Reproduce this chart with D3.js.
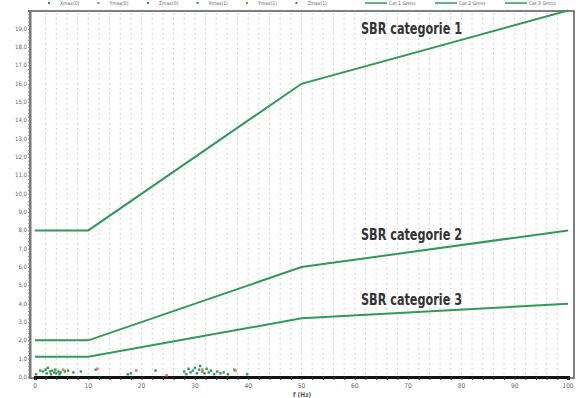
<!DOCTYPE html>
<html>
<head>
<meta charset="utf-8">
<script src="https://cdn.jsdelivr.net/npm/d3@7"></script>
<style>
  body { margin: 0; background: #fff; }
  svg { display: block; }
</style>
</head>
<body>
<div id="chart"></div>
<script>
// limit lines (SBR), frequency in Hz, velocity in mm/s
const limitFreq = [0, 10, 50, 100];
const cat1 = [8, 8, 16, 20];
const cat2 = [2, 2, 6, 8];
const cat3 = [1.1, 1.1, 3.2, 4];
const catLabels = ["SBR categorie 1", "SBR categorie 2", "SBR categorie 3"];
const labelValues = [18.7, 7.5, 3.95];

// measured peaks near the bottom
const greenFreq = [0.2, 1.0, 1.5, 2.0, 2.2, 2.4, 2.8, 3.0, 3.2, 3.6, 3.8, 4.0, 4.4, 4.6, 4.8, 5.6, 6.2, 7.2, 8.6, 11.4, 17.4, 18.0, 22.6, 28.0, 28.4, 28.8, 29.2, 29.6, 30.0, 30.4, 30.8, 31.0, 31.4, 31.8, 32.2, 32.6, 33.0, 33.6, 34.2, 34.8, 35.4, 36.2, 37.4, 39.8];
const greenVal = [0.15, 0.35, 0.3, 0.4, 0.2, 0.5, 0.3, 0.15, 0.35, 0.25, 0.4, 0.2, 0.3, 0.15, 0.25, 0.3, 0.35, 0.25, 0.3, 0.4, 0.15, 0.2, 0.35, 0.3, 0.15, 0.45, 0.25, 0.35, 0.5, 0.2, 0.4, 0.6, 0.3, 0.2, 0.45, 0.25, 0.35, 0.15, 0.3, 0.2, 0.25, 0.15, 0.4, 0.15];
const redFreq = [5.3, 11.7, 19.0, 24.7, 31.4, 37.6];
const redVal = [0.4, 0.45, 0.35, 0.1, 0.4, 0.35];

const legendItems = ["Xmax(0)", "Ymax(0)", "Zmax(0)", "Xmax(1)", "Ymax(1)", "Zmax(1)"];
const legendLines = ["Cat 1 Grens", "Cat 2 Grens", "Cat 3 Grens"];

const xTicks = d3.range(0, 101, 10);
const yTicks = d3.range(0, 20, 1);

const width = 576, height = 398;
const frame = { left: 30, right: 574, top: 11, bottom: 378 };
const green = "#2f9a58";
const condensed = "'DejaVu Sans Condensed', 'Liberation Sans Narrow', sans-serif";

const svg = d3.select("#chart").append("svg")
  .attr("width", width)
  .attr("height", height);

const x = d3.scaleLinear().domain([0, 100]).range([35, 568]);
const y = d3.scaleLinear().domain([0, 20]).range([377, 10.5]);

// frame
svg.append("rect")
  .attr("x", frame.left).attr("y", frame.top)
  .attr("width", frame.right - frame.left)
  .attr("height", frame.bottom - frame.top)
  .attr("fill", "none")
  .attr("stroke", "#555")
  .attr("stroke-width", 1.5);

// dotted vertical grid every 2 Hz
svg.append("g").selectAll("line")
  .data(d3.range(2, 100, 2))
  .join("line")
  .attr("x1", d => x(d)).attr("x2", d => x(d))
  .attr("y1", frame.top + 2).attr("y2", frame.bottom - 2)
  .attr("stroke", "#b8b8b8")
  .attr("stroke-width", 0.8)
  .attr("stroke-dasharray", "1.5,3.5");

// bottom axis
const xAxis = svg.append("g")
  .attr("transform", `translate(0,${frame.bottom - 1})`)
  .call(d3.axisBottom(x).tickValues(d3.range(0, 101, 2)).tickSize(3).tickFormat(""));
xAxis.select(".domain").attr("stroke", "#111").attr("stroke-width", 3);
xAxis.selectAll(".tick line").attr("stroke", "#333");

svg.append("g").selectAll("text")
  .data(xTicks)
  .join("text")
  .attr("x", d => x(d))
  .attr("y", frame.bottom + 9.5)
  .attr("text-anchor", "middle")
  .attr("font-family", condensed)
  .attr("font-size", 6.5)
  .attr("fill", "#666")
  .text(d => d);

svg.append("text")
  .attr("x", 293)
  .attr("y", 396.5)
  .attr("font-family", condensed)
  .attr("font-size", 6.5)
  .attr("font-weight", "bold")
  .attr("fill", "#555")
  .text("f (Hz)");

// left axis
const yAxis = svg.append("g")
  .attr("transform", `translate(${frame.left},0)`)
  .call(d3.axisLeft(y).tickValues(d3.range(0, 20.01, 0.2)).tickSize(2).tickFormat(""));
yAxis.select(".domain").attr("stroke", "#777").attr("stroke-width", 2);
yAxis.selectAll(".tick line").attr("stroke", "#888");

svg.append("g").selectAll("text")
  .data(yTicks)
  .join("text")
  .attr("x", frame.left - 3)
  .attr("y", d => y(d) + 2)
  .attr("text-anchor", "end")
  .attr("font-family", condensed)
  .attr("font-size", 6)
  .attr("fill", "#666")
  .text(d => d3.format(".1f")(d).replace(".", ","));

// legend strip along the top edge
const legend = svg.append("g").attr("font-family", condensed).attr("font-size", 5).attr("fill", "#666");
const legendColors = ["#2f9a58", "#e8604a", "#2f9a58", "#2f9a58", "#e8604a", "#2f9a58"];
legendItems.forEach((t, i) => {
  const lx = 60 + i * 49.5;
  legend.append("rect").attr("x", lx - 12).attr("y", 2).attr("width", 2).attr("height", 2).attr("fill", legendColors[i]);
  legend.append("text").attr("x", lx).attr("y", 5).text(t);
});
legendLines.forEach((t, i) => {
  const lx = 365 + i * 70;
  legend.append("line").attr("x1", lx).attr("x2", lx + 22).attr("y1", 3).attr("y2", 3)
    .attr("stroke", green).attr("stroke-width", 1.5);
  legend.append("text").attr("x", lx + 24).attr("y", 5).text(t);
});

// scatter points
svg.append("g").selectAll("rect")
  .data(greenFreq.map((f, i) => [f, greenVal[i]]))
  .join("rect")
  .attr("x", d => x(d[0]) - 1.2)
  .attr("y", d => y(d[1]) - 1.2)
  .attr("width", 2.4).attr("height", 2.4)
  .attr("fill", green);

svg.append("g").selectAll("rect")
  .data(redFreq.map((f, i) => [f, redVal[i]]))
  .join("rect")
  .attr("x", d => x(d[0]) - 1.3)
  .attr("y", d => y(d[1]) - 1.3)
  .attr("width", 2.6).attr("height", 2.6)
  .attr("fill", "#ee7a5e");

// limit lines
const line = d3.line().x(d => x(d[0])).y(d => y(d[1]));
[cat1, cat2, cat3].forEach(vals => {
  svg.append("path")
    .datum(limitFreq.map((f, i) => [f, vals[i]]))
    .attr("fill", "none")
    .attr("stroke", green)
    .attr("stroke-width", 2)
    .attr("d", line);
});

// category labels
catLabels.forEach((t, i) => {
  svg.append("text")
    .attr("x", 361)
    .attr("y", y(labelValues[i]))
    .attr("font-family", condensed)
    .attr("font-size", 15)
    .attr("font-weight", "bold")
    .attr("fill", "#333")
    .attr("textLength", 101)
    .attr("lengthAdjust", "spacingAndGlyphs")
    .text(t);
});
</script>
</body>
</html>
